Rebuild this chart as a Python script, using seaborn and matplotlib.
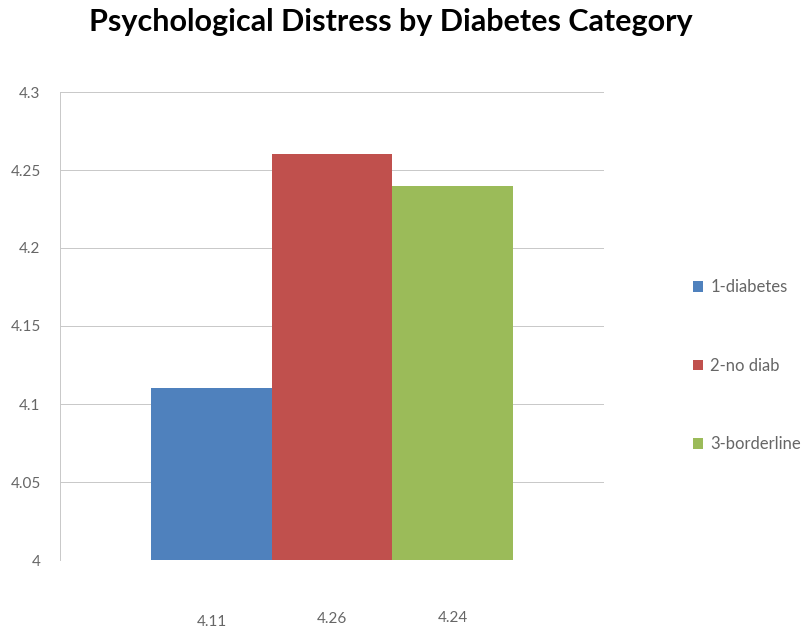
import matplotlib
matplotlib.use("Agg")
import matplotlib.pyplot as plt
import matplotlib.transforms as mtransforms
import seaborn as sns
import pandas as pd

# Data
categories = ["1-diabetes", "2-no diab", "3-borderline"]
values = [4.11, 4.26, 4.24]
value_labels = ["4.11", "4.26", "4.24"]
colors = ["#4F81BD", "#C0504D", "#9BBB59"]
title = "Psychological Distress by Diabetes Category"

df = pd.DataFrame({"group": ["all"] * 3, "category": categories, "value": values})

sns.set_style("white")
plt.rcParams["font.family"] = ["Lato", "DejaVu Sans"]

fig = plt.figure(figsize=(8.06, 6.31), dpi=100)
ax = fig.add_axes([60 / 806, 1 - 560 / 631, 544 / 806, 468 / 631])

sns.barplot(data=df, x="group", y="value", hue="category", palette=colors,
            width=0.665, ax=ax, legend=True, saturation=1, linewidth=0)

ax.set_ylim(4.0, 4.3)
ax.set_yticks([4.0, 4.05, 4.1, 4.15, 4.2, 4.25, 4.3])
ax.set_yticklabels(["4", "4.05", "4.1", "4.15", "4.2", "4.25", "4.3"])
ax.set_xlim(-0.5, 0.5)
ax.set_xticks([])
ax.set_xlabel("")
ax.set_ylabel("")
ax.tick_params(axis="y", length=0, pad=14, labelsize=11, labelcolor="#666666")
ax.yaxis.grid(True, color="#C8C8C8", linewidth=0.7)
ax.set_axisbelow(True)
for s in ["top", "right", "bottom"]:
    ax.spines[s].set_visible(False)
ax.spines["left"].set_color("#C8C8C8")
ax.spines["left"].set_linewidth(0.7)

# value labels under each bar
trans = mtransforms.blended_transform_factory(ax.transData, fig.transFigure)
patches = [p for p in ax.patches if p.get_width() > 0][:3]
ys = [1 - 622 / 631, 1 - 619 / 631, 1 - 618 / 631]
for p, lab, yy in zip(patches, value_labels, ys):
    cx = p.get_x() + p.get_width() / 2
    ax.text(cx, yy, lab, transform=trans, ha="center", va="center",
            fontsize=11, color="#666666")

leg = ax.legend(loc="center left", bbox_to_anchor=(693 / 806, 1 - 366 / 631),
                bbox_transform=fig.transFigure, frameon=False, fontsize=12,
                handlelength=0.6, handleheight=0.6, handletextpad=0.45,
                labelspacing=3.75, borderaxespad=0, borderpad=0)
for t in leg.get_texts():
    t.set_color("#666666")

fig.text(391 / 806, 1 - 22 / 631, title, ha="center", va="center",
         fontsize=22, fontweight="bold", color="#000000")

fig.savefig("out.png", dpi=100)
